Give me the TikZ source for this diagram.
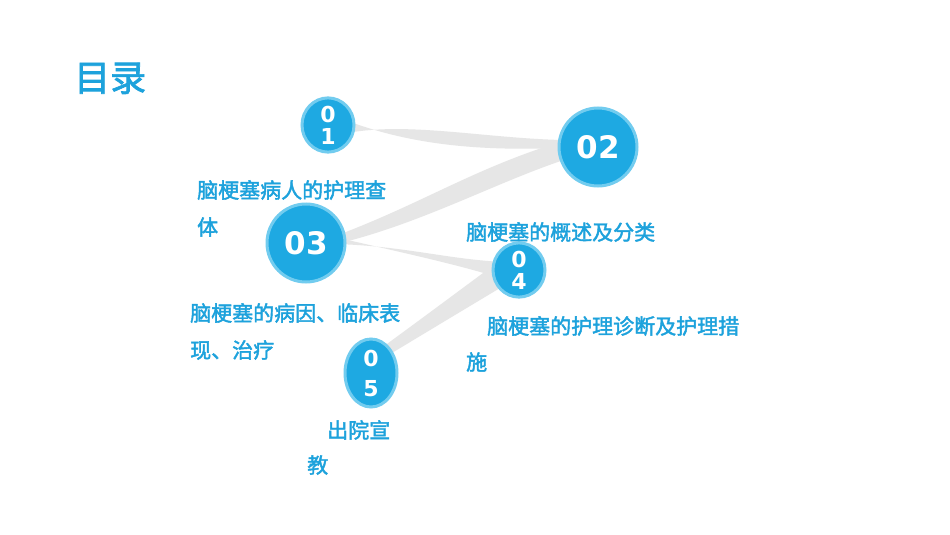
\documentclass[tikz,border=0pt]{standalone}
\usepackage{fontspec}
\newfontfamily\cjk{Noto Sans CJK SC}[AutoFakeBold=2]
\newfontfamily\dejab{DejaVu Sans Bold}
\definecolor{blu}{HTML}{1EA9E2}
\definecolor{rim}{HTML}{72CCEF}
\definecolor{txt}{HTML}{1DA2DC}
\definecolor{band}{HTML}{E6E6E6}
\tikzset{
 circ/.style={ellipse,fill=blu,draw=rim,line width=3pt,inner sep=0pt,text=white,font=\dejab},
 lab/.style={anchor=base west,text=txt,font=\cjk\bfseries\fontsize{21}{26}\selectfont,inner sep=0pt},
}
\usetikzlibrary{shapes.geometric}
\begin{document}
\begin{tikzpicture}[x=1pt,y=-1pt]
\useasboundingbox (0,0) rectangle (950,535);
\fill[white] (0,0) rectangle (950,535);
% bands
\fill[band] (340,118) .. controls (420,150) and (500,150) .. (565,148) -- (562,140) .. controls (480,138) and (400,120) .. (338,135) -- cycle;
\fill[band] (560,142) .. controls (470,170) and (420,205) .. (330,238) -- (332,245) .. controls (420,225) and (500,180) .. (570,158) -- cycle;
\fill[band] (330,236) .. controls (400,252) and (460,265) .. (500,278) -- (505,262) .. controls (450,260) and (400,245) .. (332,244) -- cycle;
\fill[band] (498,262) .. controls (460,290) and (420,320) .. (365,360) -- (372,365) .. controls (430,330) and (480,300) .. (510,282) -- cycle;
% circles
\node[circ,minimum width=52pt,minimum height=52pt,align=center,font=\dejab\fontsize{22}{24}\selectfont] (c1) at (328,125) {0\\[-2pt]1};
\node[circ,minimum width=78pt,minimum height=78pt,font=\dejab\fontsize{31}{34}\selectfont] (c2) at (598,147) {02};
\node[circ,minimum width=78pt,minimum height=78pt,font=\dejab\fontsize{31}{34}\selectfont] (c3) at (306,243) {03};
\node[circ,minimum width=52pt,minimum height=52pt,align=center,font=\dejab\fontsize{22}{24}\selectfont] (c4) at (519,270) {0\\[-2pt]4};
\node[circ,minimum width=52pt,minimum height=68pt,align=center,font=\dejab\fontsize{22}{30}\selectfont] (c5) at (371,373) {0\\5};
% title
\node[anchor=base west,text=txt,font=\cjk\bfseries\fontsize{36}{40}\selectfont,inner sep=0pt] (t) at (74,91) {目录};
% labels
\node[lab] (l1a) at (197,198) {脑梗塞病人的护理查};
\node[lab] (l1b) at (197,235) {体};
\node[lab] (l2) at (466,240) {脑梗塞的概述及分类};
\node[lab] (l3a) at (190,321) {脑梗塞的病因、临床表};
\node[lab] (l3b) at (190,358) {现、治疗};
\node[lab] (l4a) at (487,334) {脑梗塞的护理诊断及护理措};
\node[lab] (l4b) at (466,370) {施};
\node[lab] (l5a) at (327,438) {出院宣};
\node[lab] (l5b) at (307,473) {教};
\end{tikzpicture}
\end{document}
